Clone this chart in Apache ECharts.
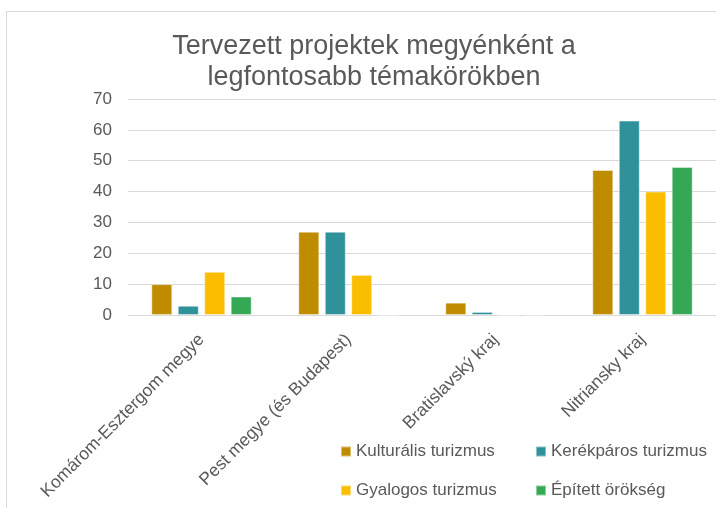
<!DOCTYPE html>
<html>
<head>
<meta charset="utf-8">
<script src="https://cdn.jsdelivr.net/npm/echarts@6/dist/echarts.min.js"></script>
<style>
  html, body { margin: 0; padding: 0; background: #fff; }
  #main { width: 716px; height: 508px; }
</style>
</head>
<body>
<div id="main"></div>
<script>
const categories = ["Komárom-Esztergom megye", "Pest megye (és Budapest)", "Bratislavský kraj", "Nitriansky kraj"];
const kulturalis = [10, 27, 4, 47];
const kerekparos = [3, 27, 1, 63];
const gyalogos = [14, 13, 0, 40];
const epitett = [6, 0, 0, 48];
const yTicks = [0, 10, 20, 30, 40, 50, 60, 70];

const grey = "#595959";
const font = "Liberation Sans, Arial, sans-serif";

const myChart = echarts.init(document.getElementById("main"));

function bar(name, data, color) {
  return {
    name: name,
    type: "bar",
    data: data,
    barWidth: 21,
    barGap: "26%",
    itemStyle: { color: color, borderColor: "rgba(255,255,255,0.45)", borderWidth: 1 },
  };
}

// one legend per item so the 2x2 layout matches
function legendItem(name, left, top) {
  return {
    left: left,
    top: top,
    padding: 0,
    itemWidth: 10,
    itemHeight: 10,
    itemGap: 5,
    icon: "rect",
    textStyle: { color: grey, fontSize: 17, fontFamily: font, padding: [0, 0, 0, 0] },
    data: [name],
  };
}

const option = {
  animation: false,
  backgroundColor: "#fff",
  title: {
    text: "Tervezett projektek megyénként a\nlegfontosabb témakörökben",
    left: 369,
    textAlign: "center",
    top: 26,
    textStyle: { color: grey, fontSize: 27, fontWeight: "normal", fontFamily: font, lineHeight: 31 },
  },
  graphic: [
    {
      type: "rect",
      shape: { x: 6.5, y: 11.5, width: 800, height: 600 },
      style: { fill: "none", stroke: "#d9d9d9", lineWidth: 1 },
      silent: true,
    },
  ],
  legend: [
    legendItem("Kulturális turizmus", 340, 443),
    legendItem("Kerékpáros turizmus", 535, 443),
    legendItem("Gyalogos turizmus", 340, 482),
    legendItem("Épített örökség", 535, 482),
  ],
  grid: { left: 128, right: 0, top: 99, bottom: 193 },
  xAxis: {
    type: "category",
    data: categories,
    axisLine: { lineStyle: { color: "#d9d9d9" } },
    axisTick: { show: false },
    axisLabel: { rotate: 45, color: grey, fontSize: 17.5, fontFamily: font, margin: 22, interval: 0 },
  },
  yAxis: {
    type: "value",
    min: yTicks[0],
    max: yTicks[yTicks.length - 1],
    interval: 10,
    axisLine: { show: false },
    axisTick: { show: false },
    axisLabel: { color: grey, fontSize: 17, fontFamily: font, margin: 16 },
    splitLine: { lineStyle: { color: "#d9d9d9", width: 1 } },
  },
  series: [
    bar("Kulturális turizmus", kulturalis, "#BF8C00"),
    bar("Kerékpáros turizmus", kerekparos, "#2F9199"),
    bar("Gyalogos turizmus", gyalogos, "#FBBD00"),
    bar("Épített örökség", epitett, "#35A856"),
  ],
};

myChart.setOption(option);
</script>
</body>
</html>
